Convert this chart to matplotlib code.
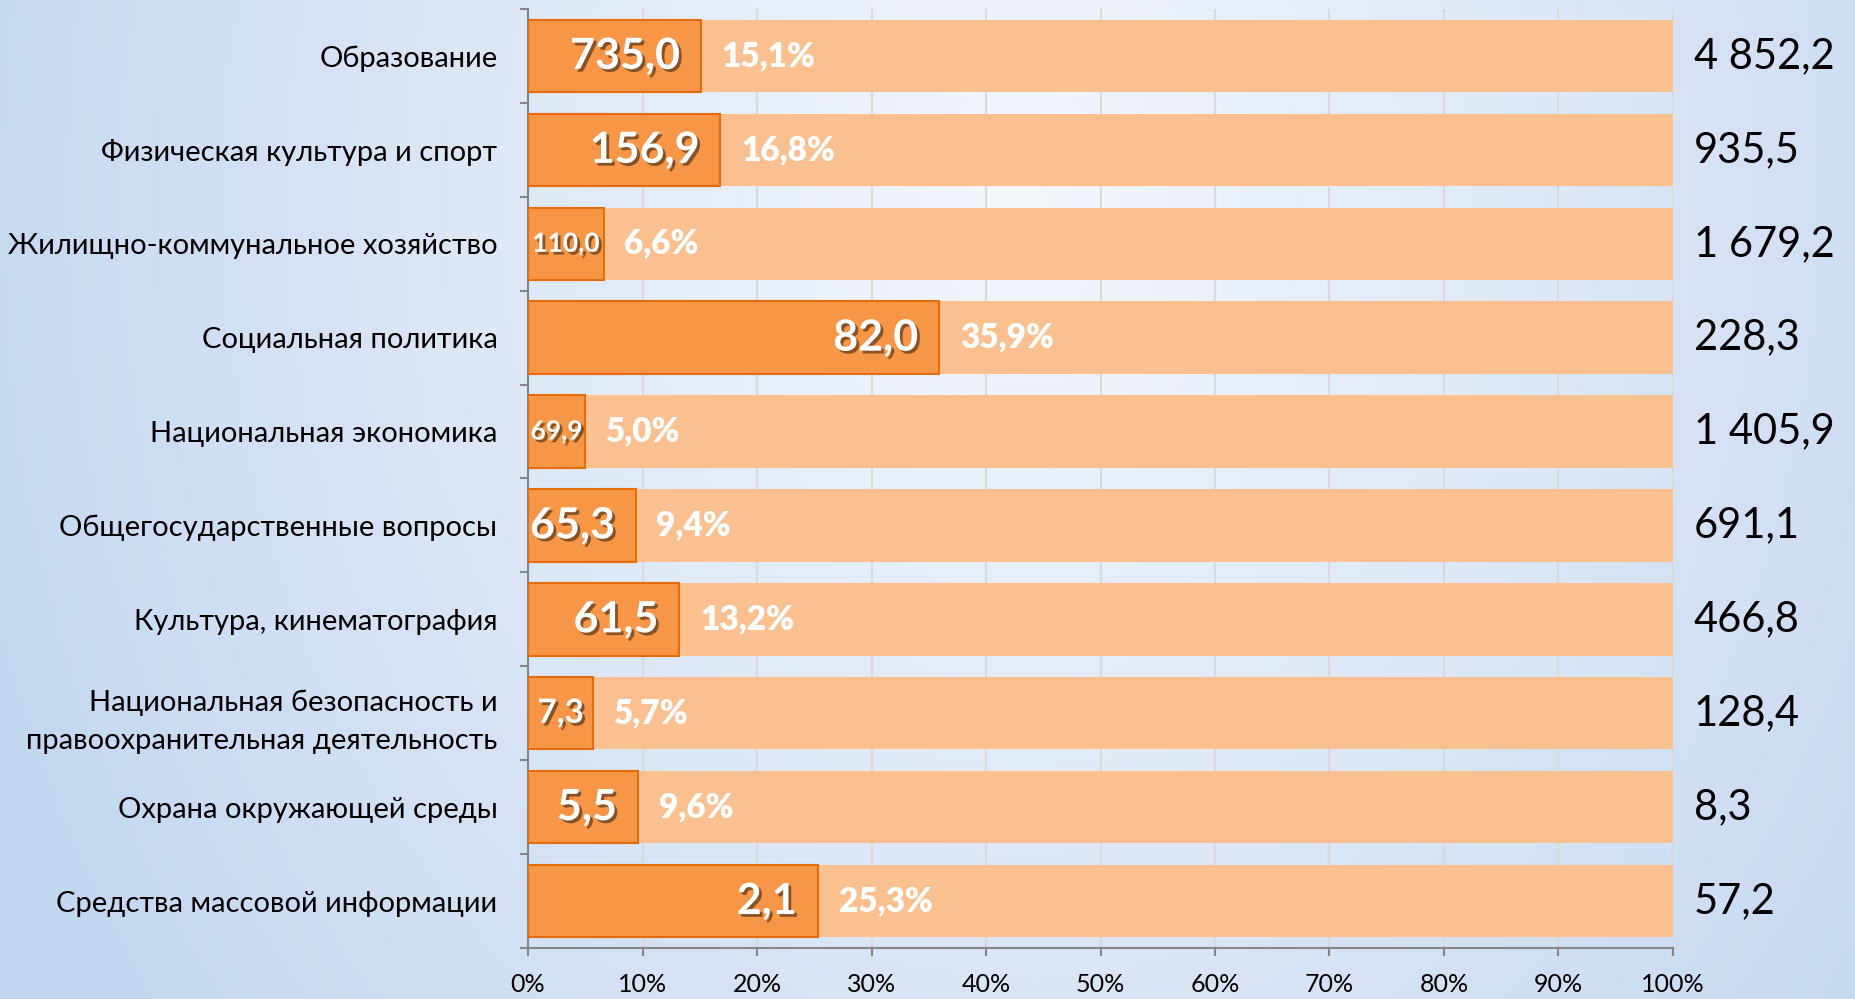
import numpy as np
import matplotlib
matplotlib.use("Agg")
import matplotlib.pyplot as plt
import matplotlib.patheffects as pe
from matplotlib.colors import LinearSegmentedColormap

# data
categories = [
    "Образование",
    "Физическая культура и спорт",
    "Жилищно-коммунальное хозяйство",
    "Социальная политика",
    "Национальная экономика",
    "Общегосударственные вопросы",
    "Культура, кинематография",
    "Национальная безопасность и\nправоохранительная деятельность",
    "Охрана окружающей среды",
    "Средства массовой информации",
]
shares = [15.1, 16.8, 6.6, 35.9, 5.0, 9.4, 13.2, 5.7, 9.6, 25.3]
inner_values = ["735,0", "156,9", "110,0", "82,0", "69,9", "65,3", "61,5", "7,3", "5,5", "2,1"]
total_values = ["4 852,2", "935,5", "1 679,2", "228,3", "1 405,9", "691,1",
                "466,8", "128,4", "8,3", "57,2"]
xticks = list(range(0, 101, 10))

plt.rcParams['font.family'] = ['Lato', 'DejaVu Sans']

fig = plt.figure(figsize=(18.56, 9.99), dpi=100)

# background gradient (light blue edges, lighter middle)
bg = fig.add_axes([0, 0, 1, 1], zorder=-1)
gx = np.linspace(0, 1, 400)
gy = np.linspace(0, 1, 220)
X, Y = np.meshgrid(gx, gy)
d = np.sqrt(((X - 0.55) / 0.6) ** 2 + ((Y - 0.2) / 1.4) ** 2)
cmap = LinearSegmentedColormap.from_list("bg", ["#f4f7fc", "#dde7f6", "#c4d7f0"])
bg.imshow(np.clip(d, 0, 1), cmap=cmap, aspect="auto", extent=[0, 1, 0, 1],
          vmin=0, vmax=1, origin="upper")
bg.axis("off")

ax = fig.add_axes([528 / 1856, 51 / 999, 1145 / 1856, 939 / 999])
ax.set_facecolor("none")

y = np.arange(len(categories))
h = 0.77
light = [100 - s for s in shares]
ax.barh(y, light, left=shares, height=h, color="#FAC090", zorder=2)
ax.barh(y, shares, height=h, color="#F79646", edgecolor="#E46C0A", linewidth=1.5, zorder=3)

shadow = [pe.SimplePatchShadow(offset=(2, -2), shadow_rgbFace="black", alpha=0.45), pe.Normal()]
for i, (s, v) in enumerate(zip(shares, inner_values)):
    if s < 7:
        size = 24 if len(v) <= 3 else 19
        ax.text(s / 2, i, v, ha="center", va="center", color="white",
                fontsize=size, fontweight="bold", path_effects=shadow, zorder=5)
    else:
        ax.annotate(v, xy=(s, i), xytext=(-15, 0), textcoords="offset points",
                    ha="right", va="center", color="white", fontsize=31,
                    fontweight="bold", path_effects=shadow, zorder=5)
    ax.annotate(f"{s:.1f}%".replace(".", ","), xy=(s, i), xytext=(15, 0),
                textcoords="offset points", ha="left", va="center", color="white",
                fontsize=24, fontweight="heavy", zorder=5)
    ax.annotate(total_values[i], xy=(100, i), xytext=(15, 0), textcoords="offset points",
                ha="left", va="center", color="black", fontsize=30, annotation_clip=False)

ax.set_xlim(0, 100)
ax.set_ylim(9.5, -0.5)
ax.set_xticks(xticks)
ax.set_xticklabels([f"{t}%" for t in xticks], fontsize=18)
ax.set_yticks(y)
ax.set_yticklabels(categories, fontsize=21, linespacing=1.55)
ax.set_yticks(np.arange(-0.5, 10, 1), minor=True)
ax.tick_params(axis="y", which="major", length=0, pad=22)
ax.tick_params(axis="y", which="minor", length=6, width=1.5, color="#868686")
ax.tick_params(axis="x", length=6, width=1.5, color="#868686", pad=12)

ax.xaxis.grid(True, color="#d9d9d9", linewidth=1.5)
ax.set_axisbelow(True)
for side in ["top", "right"]:
    ax.spines[side].set_visible(False)
for side in ["left", "bottom"]:
    ax.spines[side].set_color("#868686")
    ax.spines[side].set_linewidth(1.5)

fig.savefig("out.png", dpi=100)
